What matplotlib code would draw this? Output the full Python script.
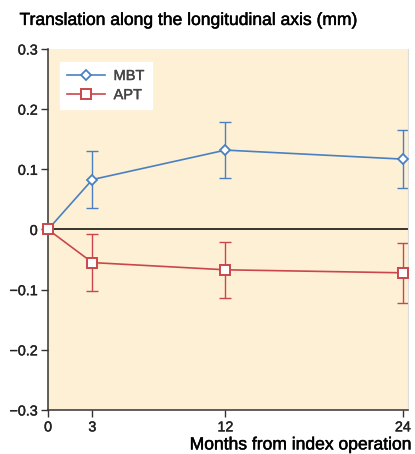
import matplotlib
matplotlib.use("Agg")
import matplotlib.pyplot as plt
import matplotlib.patheffects as pe

plt.rcParams['font.family'] = ['Liberation Sans', 'DejaVu Sans']

months = [0, 3, 12, 24]
mbt = [0, 0.083, 0.132, 0.117]
mbt_err = [0, 0.047, 0.046, 0.048]
apt = [0, -0.055, -0.067, -0.072]
apt_err = [0, 0.047, 0.047, 0.050]

blue = '#4A80C2'
red = '#C9474C'
# slight stroke to mimic the heavier Helvetica rendering
thick = [pe.withStroke(linewidth=0.35, foreground='black')]

fig = plt.figure(figsize=(4.15, 4.54), dpi=100)
ax = fig.add_axes([0.1157, 0.097, 0.8675, 0.795])
ax.set_facecolor('#FEF0D4')

ax.axhline(0, color='black', lw=1.1, zorder=1)

ax.errorbar(months[1:], mbt[1:], yerr=mbt_err[1:], fmt='none', ecolor=blue,
            elinewidth=1, capsize=4, capthick=1, zorder=2)
ax.errorbar(months[1:], apt[1:], yerr=apt_err[1:], fmt='none', ecolor=red,
            elinewidth=1, capsize=4, capthick=1, zorder=2)
ax.plot(months, mbt, color=blue, lw=1.2, marker='D', ms=5.5, mfc='white',
        mec=blue, mew=1.3, label='MBT', zorder=3, clip_on=False)
ax.plot(months, apt, color=red, lw=1.2, marker='s', ms=7.5, mfc='white',
        mec=red, mew=1.4, label='APT', zorder=4, clip_on=False)

ax.set_xlim(0, 24.35)
ax.set_ylim(-0.3, 0.3)
ax.set_xticks(months)
ax.set_yticks([-0.3, -0.2, -0.1, 0, 0.1, 0.2, 0.3])
ax.set_yticklabels(['\u22120.3', '\u22120.2', '\u22120.1', '0', '0.1', '0.2', '0.3'])
ax.tick_params(labelsize=10.3, length=5, width=1, color='#333333', direction='out', pad=2.5)
for t in ax.get_xticklabels() + ax.get_yticklabels():
    t.set_path_effects([pe.withStroke(linewidth=0.3, foreground='#222222')])
    t.set_color('#222222')

ax.spines['top'].set_visible(False)
ax.spines['right'].set_color('#DDDDDD')
ax.spines['left'].set_color('#333333')
ax.spines['bottom'].set_color('#333333')
ax.spines['left'].set_linewidth(1.1)
ax.spines['bottom'].set_linewidth(1.1)

leg = ax.legend(loc='upper left', bbox_to_anchor=(0.012, 0.985), frameon=True,
                fancybox=False, edgecolor='white', framealpha=1, fontsize=10.5,
                handlelength=2.6, handletextpad=0.6, borderpad=0.5, labelspacing=0.35)
for t in leg.get_texts():
    t.set_color('#444444')
    t.set_path_effects([pe.withStroke(linewidth=0.3, foreground='#444444')])

fig.text(0.047, 0.955, 'Translation along the longitudinal axis (mm)', fontsize=12.6,
         ha='left', va='center', path_effects=thick)
fig.text(0.457, 0.02, 'Months from index operation', fontsize=12.6, ha='left',
         va='center', path_effects=thick)

fig.savefig('out.png', dpi=100)
